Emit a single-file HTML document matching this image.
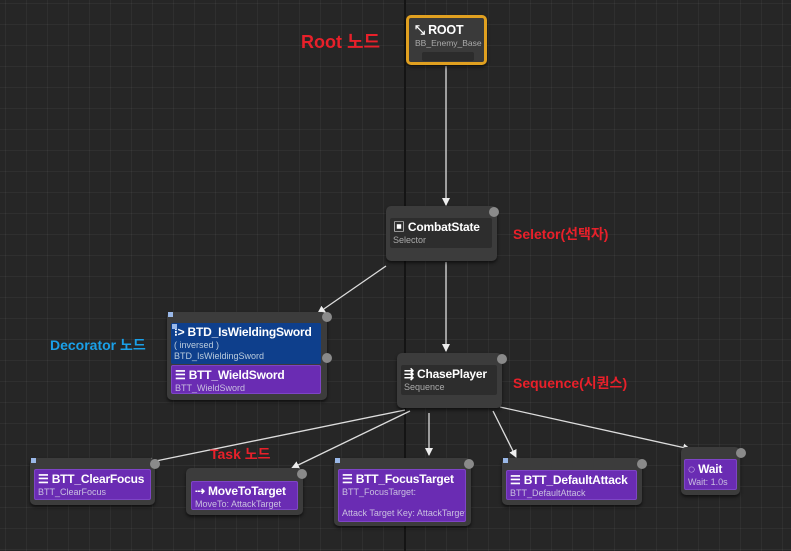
<!DOCTYPE html>
<html><head><meta charset="utf-8"><style>
*{margin:0;padding:0;box-sizing:border-box}
body{width:791px;height:551px;overflow:hidden;position:relative;background:#262626;font-family:"Liberation Sans","Noto Sans CJK KR",sans-serif;
background-image:linear-gradient(90deg,rgba(255,255,255,0.045) 1px,transparent 1px),linear-gradient(rgba(255,255,255,0.045) 1px,transparent 1px);background-size:21px 21px;background-position:5px 3px}
.vl{position:absolute;left:404px;top:0;width:2px;height:551px;background:#141414}
.n{position:absolute;background:#3c3c3c;border-radius:5px;box-shadow:0 2px 3px rgba(0,0,0,.6)}
.in{position:absolute;border-radius:2px;padding:2px 3px;color:#fff;overflow:hidden}
.t{font-weight:bold;font-size:12px;letter-spacing:-0.2px;white-space:nowrap;line-height:15px}
.s{font-size:9px;color:#c9bfe0;line-height:11px;white-space:nowrap}
.p{background:#6a2cb3;border:1px solid #7e45c6}
.d{background:#0e3f8c}
.g{background:#2d2d2d}
.b{position:absolute;width:10px;height:10px;border-radius:50%;background:#8a8a8a}
.lb{position:absolute;font-weight:bold;white-space:nowrap}
.sq{position:absolute;width:5px;height:5px;background:#9ab8e8}
</style></head><body>
<div class="vl"></div>
<svg width="791" height="551" style="position:absolute;left:0;top:0">
<defs><marker id="a" markerWidth="8" markerHeight="8" refX="7" refY="4" orient="auto" markerUnits="userSpaceOnUse"><path d="M0,0 L8,4 L0,8 Z" fill="#eee"/></marker></defs>
<g stroke="#ddd" stroke-width="1.3" fill="none" marker-end="url(#a)">
<line x1="446" y1="66" x2="446" y2="205"/>
<line x1="446" y1="262" x2="446" y2="351"/>
<line x1="386" y1="266" x2="318" y2="313"/>
<line x1="405" y1="410" x2="146" y2="463"/>
<line x1="410" y1="411" x2="292" y2="468"/>
<line x1="429" y1="413" x2="429" y2="455"/>
<line x1="493" y1="411" x2="516" y2="457"/>
<line x1="500" y1="407" x2="690" y2="449"/>
</g></svg>

<div class="n" style="left:406px;top:15px;width:81px;height:50px;border:3px solid #e0a020;background:#3a3a3a">
<div style="position:absolute;left:13px;top:34px;width:52px;height:9px;background:#2c2c2c;border-radius:2px"></div>
<div class="in" style="left:4px;top:3px;padding:2px"><div class="t" style="font-size:12.5px">⤡ ROOT</div><div class="s" style="color:#aaa;font-size:8.5px">BB_Enemy_Base</div></div>
</div>

<div class="n" style="left:386px;top:206px;width:111px;height:55px">
<div class="in g" style="left:4px;top:12px;width:102px;height:30px"><div class="t">▣ CombatState</div><div class="s" style="color:#aaa">Selector</div></div></div>
<div class="b" style="left:489px;top:207px"></div>

<div class="n" style="left:167px;top:312px;width:160px;height:88px">
<div class="in d" style="left:4px;top:11px;width:150px;height:41px"><div class="t">⁝&gt; BTD_IsWieldingSword</div><div class="s" style="color:#bcd">( inversed )</div><div class="s" style="color:#bcd">BTD_IsWieldingSword</div></div>
<div class="in p" style="left:4px;top:53px;width:150px;height:29px"><div class="t">☰ BTT_WieldSword</div><div class="s">BTT_WieldSword</div></div></div>
<div class="sq" style="left:168px;top:312px"></div><div class="sq" style="left:172px;top:324px"></div>
<div class="b" style="left:322px;top:312px"></div><div class="b" style="left:322px;top:353px"></div>

<div class="n" style="left:397px;top:353px;width:105px;height:55px">
<div class="in g" style="left:4px;top:12px;width:96px;height:30px"><div class="t">⇶ ChasePlayer</div><div class="s" style="color:#aaa">Sequence</div></div></div>
<div class="b" style="left:497px;top:354px"></div>

<div class="n" style="left:30px;top:458px;width:125px;height:47px">
<div class="in p" style="left:4px;top:11px;width:117px;height:31px"><div class="t">☰ BTT_ClearFocus</div><div class="s">BTT_ClearFocus</div></div></div>
<div class="sq" style="left:31px;top:458px"></div><div class="b" style="left:150px;top:459px"></div>

<div class="n" style="left:186px;top:468px;width:117px;height:47px">
<div class="in p" style="left:5px;top:13px;width:107px;height:29px"><div class="t">⇢ MoveToTarget</div><div class="s">MoveTo: AttackTarget</div></div></div>
<div class="b" style="left:297px;top:469px"></div>

<div class="n" style="left:334px;top:458px;width:137px;height:68px">
<div class="in p" style="left:4px;top:11px;width:128px;height:53px"><div class="t">☰ BTT_FocusTarget</div><div class="s">BTT_FocusTarget:</div><div class="s" style="margin-top:10px">Attack Target Key: AttackTarget</div></div></div>
<div class="sq" style="left:335px;top:458px"></div><div class="b" style="left:464px;top:459px"></div>

<div class="n" style="left:502px;top:458px;width:140px;height:47px">
<div class="in p" style="left:4px;top:12px;width:131px;height:30px"><div class="t">☰ BTT_DefaultAttack</div><div class="s">BTT_DefaultAttack</div></div></div>
<div class="sq" style="left:503px;top:458px"></div><div class="b" style="left:637px;top:459px"></div>

<div class="n" style="left:681px;top:447px;width:59px;height:48px">
<div class="in p" style="left:3px;top:12px;width:53px;height:31px"><div class="t">◌ Wait</div><div class="s">Wait: 1.0s</div></div></div>
<div class="b" style="left:736px;top:448px"></div>

<div class="lb" style="left:301px;top:28px;font-size:18px;color:#e8202a">Root 노드</div>
<div class="lb" style="left:513px;top:224px;font-size:14px;color:#e8202a">Seletor(선택자)</div>
<div class="lb" style="left:50px;top:335px;font-size:14px;color:#1aa0e8">Decorator 노드</div>
<div class="lb" style="left:513px;top:373px;font-size:14px;color:#e8202a">Sequence(시퀀스)</div>
<div class="lb" style="left:210px;top:444px;font-size:14px;color:#e8202a">Task 노드</div>
</body></html>
